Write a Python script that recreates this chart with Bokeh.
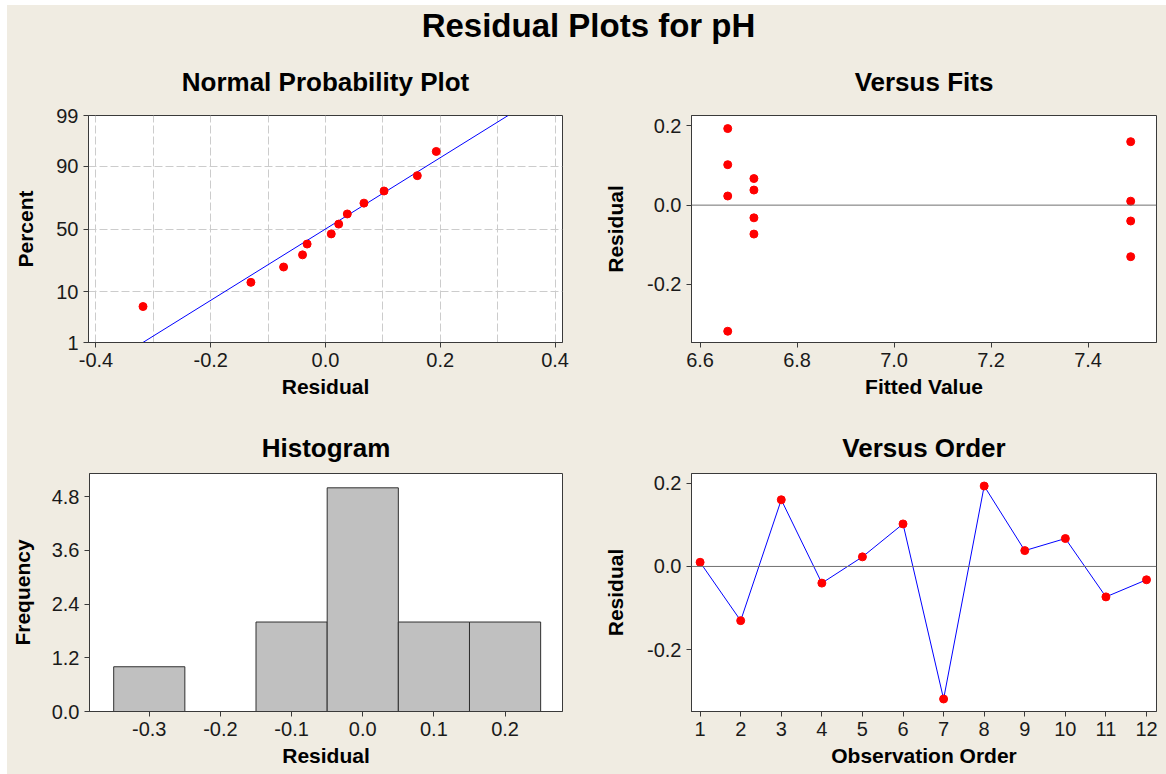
from statistics import NormalDist
from bokeh.plotting import figure
from bokeh.layouts import column, row
from bokeh.models import (Range1d, FixedTicker, PrintfTickFormatter,
                          CustomJSTickFormatter, Span, Spacer)
from bokeh.core.properties import value
from bokeh.embed import file_html
from bokeh.resources import INLINE

# ---------------- data ----------------
order = [1, 2, 3, 4, 5, 6, 7, 8, 9, 10, 11, 12]
residuals = [0.010, -0.130, 0.160, -0.040, 0.023, 0.102,
             -0.318, 0.193, 0.038, 0.067, -0.073, -0.032]
fitted = [7.488, 7.488, 7.488, 7.488, 6.657, 6.657,
          6.657, 6.657, 6.711, 6.711, 6.711, 6.711]
# plotting positions (percent) of the sorted residuals
pct_positions = [5.6, 13.7, 21.8, 29.8, 37.9, 46.0,
                 54.0, 62.1, 70.2, 78.2, 86.3, 94.4]
fit_mean = 0.0
fit_sd = 0.1368
prob_ticks = [1, 10, 50, 90, 99]
hist_centers = [-0.3, -0.2, -0.1, 0.0, 0.1, 0.2]
hist_counts = [1, 0, 2, 5, 2, 2]

BG = "#F0ECE2"
FRAME = "#3A3A3A"
FONT = "Liberation Sans"
nd = NormalDist()


def style(p, xlabel, ylabel, lstand, tstand):
    p.background_fill_color = "white"
    p.border_fill_color = BG
    p.outline_line_color = FRAME
    p.outline_line_width = 1
    p.title.text_font = FONT
    p.title.text_font_size = "26px"
    p.title.text_font_style = "bold"
    p.title.text_color = "black"
    p.title.align = "center"
    p.title.standoff = tstand
    p.xaxis.axis_label = xlabel
    p.yaxis.axis_label = ylabel
    for ax in p.axis:
        ax.axis_line_color = FRAME
        ax.major_tick_line_color = FRAME
        ax.major_tick_out = 5
        ax.major_tick_in = 0
        ax.minor_tick_line_color = None
        ax.major_label_text_font = FONT
        ax.major_label_text_font_size = "20px"
        ax.major_label_text_color = "#1A1A1A"
        ax.major_label_standoff = 5
        ax.axis_label_text_font = FONT
        ax.axis_label_text_font_size = "21px"
        ax.axis_label_text_font_style = "bold"
        ax.axis_label_text_color = "black"
    p.xaxis.axis_label_standoff = 5
    p.yaxis.axis_label_standoff = lstand
    p.grid.visible = False


# ---------------- header ----------------
HEAD_H = 40
header = figure(width=1159, height=HEAD_H, x_range=Range1d(0, 1159), y_range=Range1d(0, HEAD_H),
                toolbar_location=None, output_backend="svg", min_border=0)
header.axis.visible = False
header.grid.visible = False
header.outline_line_color = None
header.background_fill_color = BG
header.border_fill_color = BG
header.text(x=[581], y=[20], text=["Residual Plots for pH"], text_font=value(FONT),
            text_font_size="33px", text_font_style="bold", text_align="center",
            text_baseline="middle", text_color="black")

TOP_H, BOT_H = 373, 356
LW, RW = 583, 576

# ---------------- normal probability plot ----------------
z_lo = nd.inv_cdf(prob_ticks[0] / 100)
z_hi = nd.inv_cdf(prob_ticks[-1] / 100)
p1 = figure(width=LW, height=TOP_H, title="Normal Probability Plot",
            x_range=Range1d(-0.413, 0.413), y_range=Range1d(z_lo, z_hi),
            toolbar_location=None, output_backend="svg",
            min_border_left=81, min_border_right=28, min_border_top=70, min_border_bottom=76)
style(p1, "Residual", "Percent", 16, 37)
zt = [nd.inv_cdf(v / 100) for v in prob_ticks]
p1.yaxis.ticker = FixedTicker(ticks=zt)
p1.yaxis.formatter = CustomJSTickFormatter(
    args=dict(zs=zt, labels=[str(v) for v in prob_ticks]),
    code="""
    let best = ''; let bd = 1e9;
    for (let i = 0; i < zs.length; i++) {
        const d = Math.abs(tick - zs[i]);
        if (d < bd) { bd = d; best = labels[i]; }
    }
    return best;
    """)
p1.xaxis.ticker = FixedTicker(ticks=[-0.4, -0.2, 0.0, 0.2, 0.4])
p1.xaxis.formatter = PrintfTickFormatter(format="%.1f")
p1.grid.visible = True
p1.xgrid.ticker = FixedTicker(ticks=[-0.4, -0.3, -0.2, -0.1, 0.0, 0.1, 0.2, 0.3, 0.4])
p1.ygrid.ticker = FixedTicker(ticks=zt)
p1.grid.grid_line_color = "#CCCCCC"
p1.grid.grid_line_dash = "8 3"
p1.grid.grid_line_width = 1
sorted_res = sorted(residuals)
pz = [nd.inv_cdf(v / 100) for v in pct_positions]
p1.line([fit_mean + fit_sd * z_lo, fit_mean + fit_sd * z_hi], [z_lo, z_hi],
        line_color="#0000FF", line_width=1)
p1.scatter(sorted_res, pz, size=8, color="#FF0000", marker="circle")

# ---------------- versus fits ----------------
p2 = figure(width=RW, height=TOP_H, title="Versus Fits",
            x_range=Range1d(6.5823, 7.5412), y_range=Range1d(-0.3464, 0.226),
            toolbar_location=None, output_backend="svg",
            min_border_left=101, min_border_right=10, min_border_top=70, min_border_bottom=76)
style(p2, "Fitted Value", "Residual", 17, 37)
p2.xaxis.ticker = FixedTicker(ticks=[6.6, 6.8, 7.0, 7.2, 7.4])
p2.xaxis.formatter = PrintfTickFormatter(format="%.1f")
p2.yaxis.ticker = FixedTicker(ticks=[-0.2, 0.0, 0.2])
p2.yaxis.formatter = PrintfTickFormatter(format="%.1f")
p2.add_layout(Span(location=0, dimension="width", line_color="#707070", line_width=1))
p2.scatter(fitted, residuals, size=8, color="#FF0000", marker="circle")

# ---------------- histogram ----------------
p3 = figure(width=LW, height=BOT_H, title="Histogram",
            x_range=Range1d(-0.384, 0.2807), y_range=Range1d(0, 5.32),
            toolbar_location=None, output_backend="svg",
            min_border_left=81, min_border_right=28, min_border_top=55, min_border_bottom=63)
style(p3, "Residual", "Frequency", 15, 21)
p3.xaxis.ticker = FixedTicker(ticks=hist_centers)
p3.xaxis.formatter = PrintfTickFormatter(format="%.1f")
p3.yaxis.ticker = FixedTicker(ticks=[0.0, 1.2, 2.4, 3.6, 4.8])
p3.yaxis.formatter = PrintfTickFormatter(format="%.1f")
p3.vbar(x=hist_centers, top=hist_counts, bottom=0, width=0.1,
        fill_color="#C0C0C0", line_color="#303030", line_width=1)

# ---------------- versus order ----------------
p4 = figure(width=RW, height=BOT_H, title="Versus Order",
            x_range=Range1d(0.788, 12.246), y_range=Range1d(-0.348, 0.223),
            toolbar_location=None, output_backend="svg",
            min_border_left=101, min_border_right=10, min_border_top=55, min_border_bottom=63)
style(p4, "Observation Order", "Residual", 17, 21)
p4.xaxis.ticker = FixedTicker(ticks=order)
p4.yaxis.ticker = FixedTicker(ticks=[-0.2, 0.0, 0.2])
p4.yaxis.formatter = PrintfTickFormatter(format="%.1f")
p4.add_layout(Span(location=0, dimension="width", line_color="#707070", line_width=1))
p4.line(order, residuals, line_color="#0000FF", line_width=1)
p4.scatter(order, residuals, size=8, color="#FF0000", marker="circle")

bgs = {"background-color": BG}
inner = column(header,
               row(p1, p2, spacing=0, styles=bgs),
               row(p3, p4, spacing=0, styles=bgs),
               spacing=0, styles=bgs)
layout = column(Spacer(width=1166, height=5),
                row(Spacer(width=7, height=769), inner, spacing=0),
                spacing=0)
open("out.html", "w").write(file_html(layout, INLINE))
